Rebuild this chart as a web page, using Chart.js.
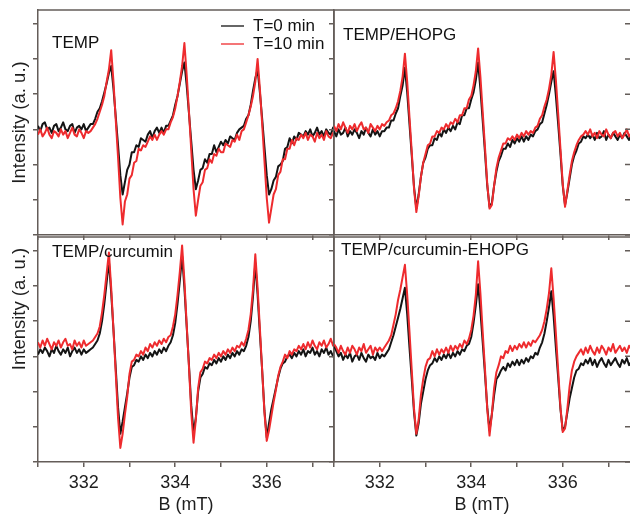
<!DOCTYPE html>
<html>
<head>
<meta charset="utf-8">
<script src="https://cdn.jsdelivr.net/npm/chart.js"></script>
<style>
  html, body { margin: 0; padding: 0; background: #fff; }
  body { width: 630px; height: 515px; position: relative; overflow: hidden; }
  .panel { position: absolute; }
  .panel canvas { display: block; }
</style>
</head>
<body>
<div class="panel" style="left:0;top:0;width:340px;height:240px"><canvas id="pTL"></canvas></div>
<div class="panel" style="left:300px;top:0;width:330px;height:240px"><canvas id="pTR"></canvas></div>
<div class="panel" style="left:0;top:230px;width:340px;height:285px"><canvas id="pBL"></canvas></div>
<div class="panel" style="left:300px;top:230px;width:330px;height:285px"><canvas id="pBR"></canvas></div>
<script>
// Magnetic field B (mT), shared by every spectrum
const field = [
  331.00, 331.05, 331.10, 331.15, 331.20, 331.25, 331.30, 331.35, 331.40, 331.45,
  331.50, 331.55, 331.60, 331.65, 331.70, 331.75, 331.80, 331.85, 331.90, 331.95,
  332.00, 332.05, 332.10, 332.15, 332.20, 332.25, 332.30, 332.35, 332.40, 332.45,
  332.50, 332.55, 332.60, 332.65, 332.70, 332.75, 332.80, 332.85, 332.90, 332.95,
  333.00, 333.05, 333.10, 333.15, 333.20, 333.25, 333.30, 333.35, 333.40, 333.45,
  333.50, 333.55, 333.60, 333.65, 333.70, 333.75, 333.80, 333.85, 333.90, 333.95,
  334.00, 334.05, 334.10, 334.15, 334.20, 334.25, 334.30, 334.35, 334.40, 334.45,
  334.50, 334.55, 334.60, 334.65, 334.70, 334.75, 334.80, 334.85, 334.90, 334.95,
  335.00, 335.05, 335.10, 335.15, 335.20, 335.25, 335.30, 335.35, 335.40, 335.45,
  335.50, 335.55, 335.60, 335.65, 335.70, 335.75, 335.80, 335.85, 335.90, 335.95,
  336.00, 336.05, 336.10, 336.15, 336.20, 336.25, 336.30, 336.35, 336.40, 336.45,
  336.50, 336.55, 336.60, 336.65, 336.70, 336.75, 336.80, 336.85, 336.90, 336.95,
  337.00, 337.05, 337.10, 337.15, 337.20, 337.25, 337.30, 337.35, 337.40, 337.45,
  337.50
];
const fieldTicks = [331, 332, 333, 334, 335, 336, 337];
const fieldLabels = [332, 334, 336];
const intensityTicks = [-60, -40, -20, 0, 20, 40, 60];
const seriesNames = ['T=0 min', 'T=10 min'];

// TEMP
const tempBlack = [
  2, -1, 3, 4, 0, 1, -2, 2, 3, -1,
  1, 4, 0, -1, 2, 3, -2, 1, 2, 0,
  3, -1, 1, 3, 3, 6, 10, 12, 16, 21,
  26, 32, 36, 23, 7, -9, -26, -37, -30, -23,
  -20, -13, -13, -9, -10, -5, -6, -7, -3, -1,
  -5, -1, 1, -2, 1, -2, 2, 2, 5, 8,
  14, 19, 26, 33, 38, 25, 9, -7, -23, -34,
  -29, -23, -22, -17, -19, -14, -14, -9, -13, -10,
  -7, -9, -6, -8, -4, -5, -6, -2, 0, 1,
  2, 6, 8, 14, 22, 29, 34, 21, 6, -10,
  -26, -37, -34, -29, -27, -21, -20, -18, -11, -10,
  -5, -8, -4, -6, -2, -3, -4, -1, -3, 0,
  -4, -2, 1, -3, -1, -4, 0, -2, -3, 1, -1
];
const tempRed = [
  -3, 0, -4, -2, 1, -3, -5, -1, -2, -4,
  0, -3, -1, -5, -2, 1, -3, -4, 0, -2,
  -5, -1, -2, -1, 1, 3, 6, 10, 14, 19,
  27, 34, 45, 27, 5, -16, -39, -54, -41, -37,
  -28, -26, -19, -18, -11, -12, -9, -10, -7, -4,
  -6, -3, -6, -3, -1, -3, 0, 0, 4, 7,
  12, 19, 27, 36, 49, 31, 10, -12, -34, -49,
  -40, -32, -30, -23, -22, -17, -19, -14, -15, -11,
  -13, -13, -8, -9, -10, -6, -7, -3, -6, -1,
  0, 4, 8, 13, 19, 27, 40, 23, 3, -18,
  -39, -53, -45, -37, -34, -26, -24, -17, -17, -11,
  -11, -6, -9, -5, -6, -3, -5, -2, -6, -3,
  -4, -7, -2, -5, -3, -6, -1, -4, -5, -2, -4
];

// TEMP/EHOPG
const ehopgBlack = [
  -1, -4, 0, -3, -2, 1, -4, -1, -3, 0,
  -2, -5, -1, -3, 1, -2, -4, 0, -3, -1,
  -4, -1, -1, 1, 1, 5, 5, 9, 12, 19,
  25, 35, 21, 3, -15, -33, -45, -37, -27, -19,
  -16, -11, -9, -9, -5, -6, -2, -4, 0, -2,
  1, -1, 2, 0, 4, 3, 8, 8, 12, 12,
  17, 21, 28, 38, 23, 5, -13, -32, -44, -42,
  -32, -24, -18, -15, -11, -11, -8, -10, -6, -8,
  -5, -7, -4, -7, -4, -6, -3, -4, -1, 0,
  3, 4, 9, 14, 20, 27, 33, 19, 3, -14,
  -32, -43, -36, -28, -20, -15, -12, -8, -7, -4,
  -5, -3, -5, -3, -6, -2, -5, -4, -1, -6,
  -3, -5, -2, -4, -6, -3, -5, -2, -4, -6, -3
];
const ehopgRed = [
  2, -1, 3, 0, 4, 1, -2, 2, 0, 3,
  -1, 2, 4, 0, 1, -2, 3, 1, -1, 2,
  0, 3, 2, 4, 5, 8, 9, 12, 16, 22,
  30, 43, 27, 7, -13, -34, -47, -38, -27, -19,
  -14, -9, -8, -4, -4, -1, -2, 1, 0, 3,
  1, 4, 3, 6, 4, 8, 8, 12, 12, 17,
  19, 25, 33, 46, 30, 10, -10, -31, -45, -43,
  -32, -22, -16, -12, -8, -8, -5, -6, -4, -6,
  -3, -5, -2, -4, -1, -3, -1, -2, 1, 2,
  6, 8, 13, 17, 23, 31, 44, 28, 9, -11,
  -31, -44, -35, -26, -18, -13, -9, -6, -4, -3,
  -1, -3, 0, -4, -2, -5, -1, -3, -4, 0,
  -3, -5, -2, -1, -4, -2, -5, -3, 0, -4, -2
];

// TEMP/curcumin
const curcBlack = [
  1, 4, 2, 5, 3, 0, 4, 2, 6, 3,
  1, 4, 2, 5, 0, 3, 5, 2, 4, 1,
  4, 2, 3, 4, 5, 7, 9, 13, 20, 30,
  42, 54, 36, 15, -7, -29, -44, -37, -29, -21,
  -12, -6, -5, -2, -3, 0, -2, 1, -1, 2,
  0, 3, 1, 4, 2, 5, 3, 6, 8, 12,
  19, 30, 43, 57, 39, 17, -5, -28, -43, -35,
  -20, -12, -10, -6, -7, -4, -5, -2, -4, -1,
  -3, 0, -2, 1, -1, 2, 0, 3, 1, 4,
  3, 6, 11, 20, 34, 53, 35, 13, -8, -31,
  -46, -38, -30, -24, -18, -12, -7, -4, -3, 0,
  1, -1, 2, 0, 3, 1, 4, 0, 3, 2,
  5, 1, 3, 0, 4, 2, 5, 1, 3, 0, 2
];
const curcRed = [
  8, 5, 9, 6, 10, 7, 4, 8, 6, 9,
  5, 8, 10, 6, 7, 4, 9, 6, 8, 5,
  9, 6, 7, 8, 9, 11, 13, 17, 25, 35,
  47, 59, 39, 15, -10, -35, -52, -44, -33, -23,
  -10, -3, -2, 1, 0, 3, 1, 5, 3, 7,
  5, 8, 6, 9, 7, 10, 8, 11, 12, 17,
  24, 35, 48, 63, 43, 18, -6, -32, -49, -36,
  -18, -9, -7, -3, -4, -1, -2, 1, -1, 2,
  0, 3, 1, 4, 2, 5, 3, 6, 5, 8,
  6, 10, 15, 24, 38, 58, 39, 16, -8, -32,
  -48, -42, -34, -26, -19, -11, -6, -3, 1, -1,
  3, 1, 4, 3, 6, 4, 7, 4, 8, 5,
  9, 6, 4, 8, 6, 9, 5, 7, 10, 6, 9
];

// TEMP/curcumin-EHOPG
const cehBlack = [
  6, 3, 0, 2, -2, 1, -1, 2, -3, 0,
  1, -2, 2, -1, -3, 1, -1, 0, -2, 2,
  -1, 1, 0, 2, 4, 8, 12, 17, 22, 27,
  33, 39, 24, 5, -13, -32, -45, -38, -27, -20,
  -13, -8, -5, -4, -1, -3, 0, -2, 1, -1,
  2, -1, 2, 0, 3, 1, 4, 3, 6, 7,
  11, 19, 29, 41, 26, 8, -10, -29, -42, -33,
  -22, -13, -11, -8, -6, -8, -4, -6, -3, -5,
  -2, -5, -2, -4, -1, -3, 0, -1, 2, 1,
  5, 8, 13, 20, 28, 37, 23, 5, -12, -30,
  -42, -40, -32, -24, -18, -12, -8, -7, -4, -5,
  -2, -4, -1, -5, -2, -6, -3, -1, -4, -6,
  -2, -5, -3, -1, -4, -6, -2, -4, -1, -5, -3
];
const cehRed = [
  7, 5, 2, 6, 3, 1, 5, 2, 6, 4,
  1, 5, 3, 7, 2, 4, 6, 1, 5, 3,
  5, 3, 5, 7, 9, 12, 18, 24, 32, 38,
  45, 52, 35, 14, -8, -30, -44, -36, -22, -13,
  -6, -2, -1, 3, 0, 4, 1, 4, 2, 5,
  2, 6, 3, 6, 4, 7, 5, 9, 7, 10,
  15, 23, 35, 54, 36, 14, -7, -30, -45, -33,
  -18, -9, -5, 0, -1, 3, 2, 6, 3, 6,
  4, 7, 5, 8, 5, 8, 6, 9, 8, 10,
  12, 15, 20, 27, 36, 50, 33, 13, -8, -29,
  -43, -41, -30, -17, -8, -3, 0, 2, 4, 1,
  5, 2, 6, 3, 1, 5, 2, 6, 4, 1,
  5, 3, 7, 2, 4, 6, 3, 5, 2, 6, 4
];

const FRAME = '#645d59';
const INK = '#1e1e1e';
const FONT = "'Liberation Sans', Arial, Helvetica, sans-serif";
const BLACK = '#141414';
const RED = '#ee2b2e';

function pts(ys) {
  return field.map((x, i) => ({ x: x, y: ys[i] }));
}

// frame top/right, panel name, legend and the odd y title
const panelDeco = {
  id: 'panelDeco',
  afterDraw(chart, args, o) {
    const { ctx, chartArea: a, scales } = chart;
    ctx.save();
    ctx.strokeStyle = FRAME;
    ctx.lineWidth = 1.5;
    ctx.beginPath();
    ctx.moveTo(a.left, a.top);
    ctx.lineTo(a.right, a.top);
    if (o.rightBorder) {
      ctx.moveTo(a.right, a.top);
      ctx.lineTo(a.right, a.bottom);
    }
    if (o.rightTicks) {
      intensityTicks.forEach(v => {
        const y = scales.y.getPixelForValue(v);
        ctx.moveTo(a.right - 5, y);
        ctx.lineTo(a.right, y);
      });
    }
    ctx.stroke();

    ctx.fillStyle = '#111';
    ctx.font = '17px ' + FONT;
    ctx.textBaseline = 'middle';
    ctx.textAlign = 'left';
    ctx.fillText(o.label, a.left + o.labelDx, a.top + o.labelDy);

    if (o.legend) {
      chart.data.datasets.forEach((ds, i) => {
        const y = a.top + 16 + i * 18;
        ctx.save();
        ctx.globalAlpha = 0.65;
        ctx.strokeStyle = ds.borderColor;
        ctx.lineWidth = 2;
        ctx.beginPath();
        ctx.moveTo(a.left + 183, y);
        ctx.lineTo(a.left + 206, y);
        ctx.stroke();
        ctx.restore();
        ctx.fillStyle = '#111';
        ctx.fillText(ds.label, a.left + 215, y);
      });
    }

    if (o.yTitle) {
      ctx.translate(20, a.top + 72);
      ctx.rotate(-Math.PI / 2);
      ctx.textAlign = 'center';
      ctx.fillStyle = INK;
      ctx.font = '18.5px ' + FONT;
      ctx.fillText(o.yTitle, 0, 0);
    }
    ctx.restore();
  }
};

function makePanel(id, blackData, redData, opt) {
  const axisLine = { display: true, color: FRAME, width: 1.5 };
  const tickMarks = { drawOnChartArea: false, drawTicks: true, tickLength: 5, color: FRAME, lineWidth: 1.5 };
  new Chart(document.getElementById(id), {
    type: 'line',
    data: {
      datasets: [
        { label: seriesNames[0], data: pts(blackData), borderColor: BLACK, borderWidth: 2, order: 1 },
        { label: seriesNames[1], data: pts(redData), borderColor: RED, borderWidth: 2, order: 0 }
      ]
    },
    options: {
      responsive: true,
      maintainAspectRatio: false,
      animation: false,
      events: [],
      layout: { padding: opt.padding },
      elements: { point: { radius: 0 }, line: { tension: 0, borderJoinStyle: 'round' } },
      plugins: {
        legend: { display: false },
        tooltip: { enabled: false },
        panelDeco: opt.deco
      },
      scales: {
        x: {
          type: 'linear',
          min: 331.0,
          max: 337.47,
          afterBuildTicks: s => { s.ticks = fieldTicks.map(v => ({ value: v })); },
          afterFit: s => { s.height = opt.xh; },
          border: axisLine,
          grid: tickMarks,
          ticks: {
            display: opt.xLabels,
            autoSkip: false,
            maxRotation: 0,
            padding: 5,
            color: INK,
            font: { family: FONT, size: 18 },
            callback: v => fieldLabels.includes(v) ? String(v) : ''
          },
          title: {
            display: opt.xLabels,
            text: 'B (mT)',
            color: INK,
            font: { family: FONT, size: 18, lineHeight: 1 },
            padding: { top: 0, bottom: 1 }
          }
        },
        y: {
          type: 'linear',
          min: -60,
          max: 67.8,
          afterBuildTicks: s => { s.ticks = intensityTicks.map(v => ({ value: v })); },
          afterFit: s => { s.width = opt.yw; },
          border: axisLine,
          grid: tickMarks,
          ticks: { display: false },
          title: {
            display: !!opt.yTitle,
            text: 'Intensity (a. u.)',
            color: INK,
            font: { family: FONT, size: 18.5 },
            padding: { top: 9, bottom: 0 }
          }
        }
      }
    },
    plugins: [panelDeco]
  });
}

makePanel('pTL', tempBlack, tempRed, {
  padding: { left: 0, top: 10, right: 6, bottom: 0 }, xh: 5, yw: 38, xLabels: false, yTitle: true,
  deco: { label: 'TEMP', labelDx: 14, labelDy: 33, legend: true, rightBorder: true }
});
makePanel('pTR', ehopgBlack, ehopgRed, {
  padding: { left: 0, top: 10, right: 0, bottom: 0 }, xh: 5, yw: 34, xLabels: false, yTitle: false,
  deco: { label: 'TEMP/EHOPG', labelDx: 9, labelDy: 25, rightTicks: true }
});
makePanel('pBL', curcBlack, curcRed, {
  padding: { left: 0, top: 7, right: 6, bottom: 0 }, xh: 53, yw: 38, xLabels: true, yTitle: false,
  deco: { label: 'TEMP/curcumin', labelDx: 14, labelDy: 15, rightBorder: true, yTitle: 'Intensity (a. u.)' }
});
makePanel('pBR', cehBlack, cehRed, {
  padding: { left: 0, top: 7, right: 0, bottom: 0 }, xh: 53, yw: 34, xLabels: true, yTitle: false,
  deco: { label: 'TEMP/curcumin-EHOPG', labelDx: 7, labelDy: 13, rightTicks: true }
});
</script>
</body>
</html>
